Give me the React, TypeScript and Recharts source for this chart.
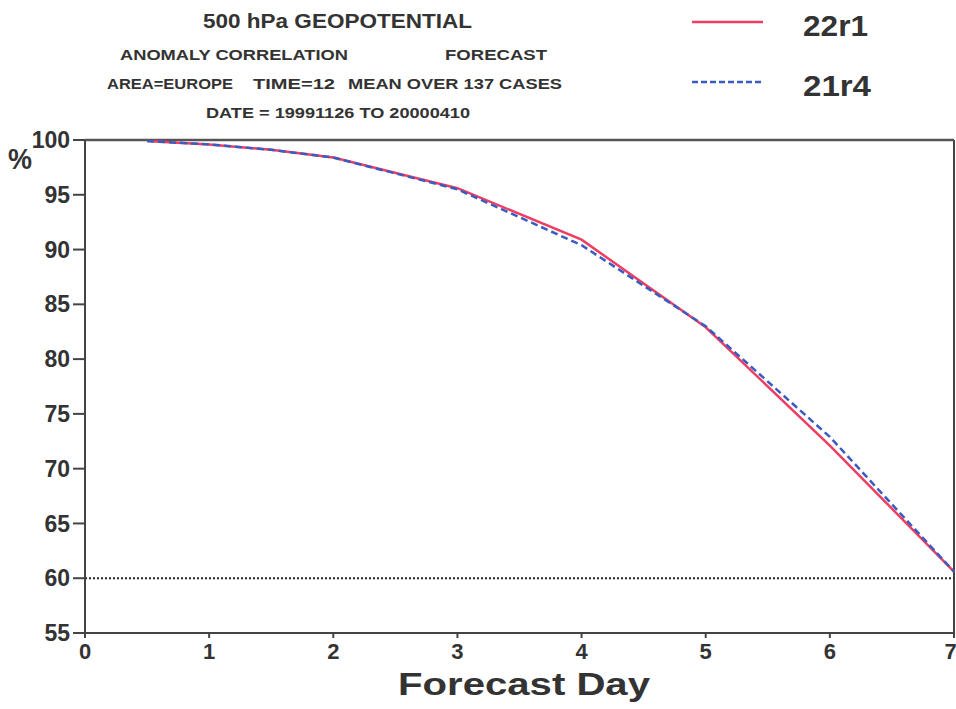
import { LineChart, Line, XAxis, YAxis, ReferenceLine } from "recharts";

// forecast day, anomaly correlation (%) for each model cycle
const days = [0.5, 1, 1.5, 2, 3, 4, 5, 6, 7];
const cycle22r1 = [99.9, 99.6, 99.1, 98.4, 95.6, 90.9, 82.9, 72.1, 60.6];
const cycle21r4 = [99.9, 99.6, 99.1, 98.4, 95.5, 90.4, 83.0, 72.9, 60.6];

const xTicks = [0, 1, 2, 3, 4, 5, 6, 7];
const yTicks = [55, 60, 65, 70, 75, 80, 85, 90, 95, 100];

const data = days.map((d, i) => ({ day: d, a: cycle22r1[i], b: cycle21r4[i] }));

const FONT = "'Liberation Sans', Arial, sans-serif";
const INK = "#333";
const RED = "#ee3d62";
const BLUE = "#3a5cc0";

// header text, stretched to the width it has in the original print
const Label = ({ x, y, size, w, s }: any) => (
  <text
    x={x}
    y={y}
    fontSize={size}
    fontWeight="bold"
    fontFamily={FONT}
    fill={INK}
    textLength={w}
    lengthAdjust="spacingAndGlyphs"
  >
    {s}
  </text>
);

export default function App() {
  return (
    <div style={{ position: "absolute", left: 0, top: 0, width: 956, height: 709, background: "#fff" }}>
      <LineChart
        width={956}
        height={709}
        data={data}
        margin={{ top: 140, right: 2, left: 0, bottom: 0 }}
      >
        <XAxis
          dataKey="day"
          type="number"
          domain={[0, 7]}
          ticks={xTicks}
          height={76}
          tickSize={5}
          tickMargin={5}
          stroke="#444"
          strokeWidth={2}
          tick={{ fontSize: 22, fontWeight: "bold", fontFamily: FONT, fill: INK }}
        />
        <YAxis
          type="number"
          domain={[55, 100]}
          ticks={yTicks}
          width={85}
          tickSize={12}
          tickMargin={3}
          stroke="#444"
          strokeWidth={2}
          tick={{ fontSize: 23, fontWeight: "bold", fontFamily: FONT, fill: INK }}
        />
        <ReferenceLine y={100} stroke="#555" strokeWidth={2.5} />
        <ReferenceLine x={7} stroke="#444" strokeWidth={2} />
        <ReferenceLine y={60} stroke="#222" strokeWidth={2} strokeDasharray="2 2" />
        <Line
          dataKey="a"
          stroke={RED}
          strokeWidth={2.5}
          dot={false}
          type="linear"
          isAnimationActive={false}
        />
        <Line
          dataKey="b"
          stroke={BLUE}
          strokeWidth={2.5}
          strokeDasharray="7 4"
          dot={false}
          type="linear"
          isAnimationActive={false}
        />
      </LineChart>

      <svg style={{ position: "absolute", left: 0, top: 0 }} width={956} height={709}>
        <Label x={203} y={28} size={21} w={269} s="500 hPa GEOPOTENTIAL" />
        <Label x={120} y={59.5} size={15.5} w={228} s="ANOMALY CORRELATION" />
        <Label x={445} y={59.5} size={15.5} w={102} s="FORECAST" />
        <Label x={107} y={88.5} size={15.5} w={126} s="AREA=EUROPE" />
        <Label x={253} y={88.5} size={15.5} w={82} s="TIME=12" />
        <Label x={348} y={88.5} size={15.5} w={214} s="MEAN OVER 137 CASES" />
        <Label x={206} y={117.5} size={15.5} w={264} s="DATE = 19991126 TO 20000410" />
        <Label x={803} y={36} size={30} w={65} s="22r1" />
        <Label x={803} y={96} size={30} w={68} s="21r4" />
        <Label x={8} y={169} size={30} w={24} s="%" />
        <Label x={398} y={695} size={32} w={252} s="Forecast Day" />
        <line x1={692} y1={22} x2={763} y2={22} stroke={RED} strokeWidth={2.5} />
        <line x1={692} y1={82} x2={763} y2={82} stroke={BLUE} strokeWidth={2.5} strokeDasharray="6 3" />
      </svg>
    </div>
  );
}
